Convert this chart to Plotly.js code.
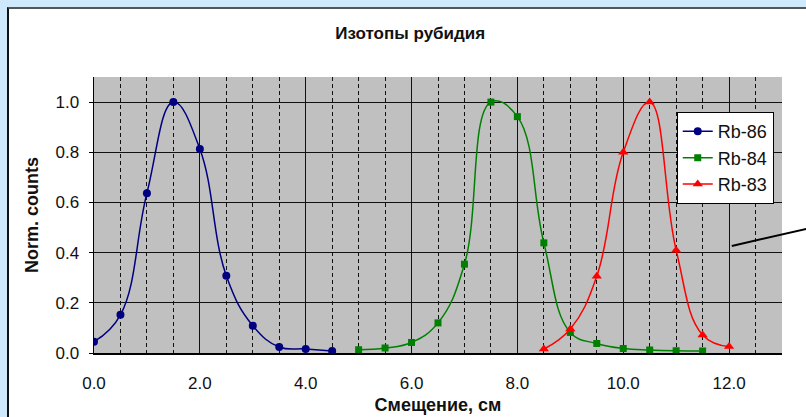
<!DOCTYPE html>
<html>
<head>
<meta charset="utf-8">
<script src="https://cdn.plot.ly/plotly-3.0.1.min.js"></script>
<style>
  html, body { margin: 0; padding: 0; overflow: hidden; background: #cde9fb; }
  #frame { position: absolute; left: 7px; top: 7px; width: 820px; height: 430px;
           background: #ffffff; border-left: 2px solid #111; border-top: 2px solid #555; }
  #chart { position: absolute; left: 0; top: 0; width: 806px; height: 417px; }
</style>
</head>
<body>
<div id="frame"></div>
<div id="chart"></div>
<script>
// Displacement (cm) and normalised counts for each rubidium isotope
const rb86X = [0.0, 0.5, 1.0, 1.5, 2.0, 2.5, 3.0, 3.5, 4.0, 4.5];
const rb86Y = [0.045, 0.152, 0.637, 1.0, 0.813, 0.308, 0.109, 0.024, 0.016, 0.008];

const rb84X = [5.0, 5.5, 6.0, 6.5, 7.0, 7.5, 8.0, 8.5, 9.0, 9.5, 10.0, 10.5, 11.0, 11.5];
const rb84Y = [0.013, 0.02, 0.042, 0.12, 0.354, 1.0, 0.942, 0.439, 0.082, 0.038, 0.018, 0.012, 0.009, 0.008];

const rb83X = [8.5, 9.0, 9.5, 10.0, 10.5, 11.0, 11.5, 12.0];
const rb83Y = [0.016, 0.096, 0.306, 0.80, 1.0, 0.41, 0.072, 0.026];

const seriesNames = ["Rb-86", "Rb-84", "Rb-83"];

const chartTitle = "Изотопы рубидия";
const xTitle = "Смещение, см";
const yTitle = "Norm. counts";

const FONT = "Arial, 'Liberation Sans', sans-serif";

function series(x, y, name, color, symbol, size) {
  return {
    x: x, y: y, name: name, type: "scatter", mode: "lines+markers",
    line: { color: color, width: 1.5, shape: "spline", smoothing: 1.2 },
    marker: { color: color, symbol: symbol, size: size }
  };
}

const traces = [
  series(rb86X, rb86Y, seriesNames[0], "#000080", "circle", 8),
  series(rb84X, rb84Y, seriesNames[1], "#008000", "square", 7),
  series(rb83X, rb83Y, seriesNames[2], "#ff0000", "triangle-up", 9)
];

const layout = {
  width: 806, height: 417,
  paper_bgcolor: "rgba(0,0,0,0)",
  plot_bgcolor: "#c0c0c0",
  margin: { l: 94, r: 24, t: 77, b: 64 },
  font: { family: FONT, color: "#111" },
  showlegend: true,
  title: {
    text: "<b>" + chartTitle + "</b>",
    font: { size: 17, family: FONT, color: "#111" },
    x: 0.509, xref: "container", xanchor: "center",
    y: 0.921, yref: "container", yanchor: "middle"
  },
  xaxis: {
    range: [0, 13], dtick: 2, tick0: 0, tickformat: ".1f",
    showgrid: true, gridcolor: "#111", gridwidth: 1,
    minor: { dtick: 0.5, tick0: 0, showgrid: true, gridcolor: "#111", gridwidth: 1, griddash: "4px,3px" },
    showline: true, linecolor: "#000", linewidth: 1.5,
    zeroline: false, ticks: "", ticklabelstandoff: 14,
    tickfont: { size: 17, family: FONT, color: "#111" },
    title: { text: "<b>" + xTitle + "</b>", font: { size: 18, family: FONT, color: "#111" }, standoff: 6 }
  },
  yaxis: {
    range: [0, 1.1], dtick: 0.2, tick0: 0, tickformat: ".1f",
    showgrid: true, gridcolor: "#111", gridwidth: 1,
    showline: true, linecolor: "#000", linewidth: 1.5,
    zeroline: false, ticks: "outside", ticklen: 4, tickcolor: "#000",
    ticklabelstandoff: 6,
    tickfont: { size: 17, family: FONT, color: "#111" },
    title: { text: "<b>" + yTitle + "</b>", font: { size: 18, family: FONT, color: "#111" }, standoff: 12 }
  },
  legend: {
    x: 0.988, xanchor: "right", y: 0.873, yanchor: "top",
    bgcolor: "#ffffff", bordercolor: "#000", borderwidth: 1,
    font: { size: 18, family: FONT, color: "#111" },
    itemwidth: 30, tracegroupgap: 0
  },
  shapes: [
    { type: "line", xref: "paper", yref: "paper",
      x0: 0.927, y0: 0.388, x1: 1.04, y1: 0.452,
      line: { color: "#000", width: 2 } }
  ]
};

Plotly.newPlot("chart", traces, layout, { displayModeBar: false, staticPlot: true });
</script>
</body>
</html>
